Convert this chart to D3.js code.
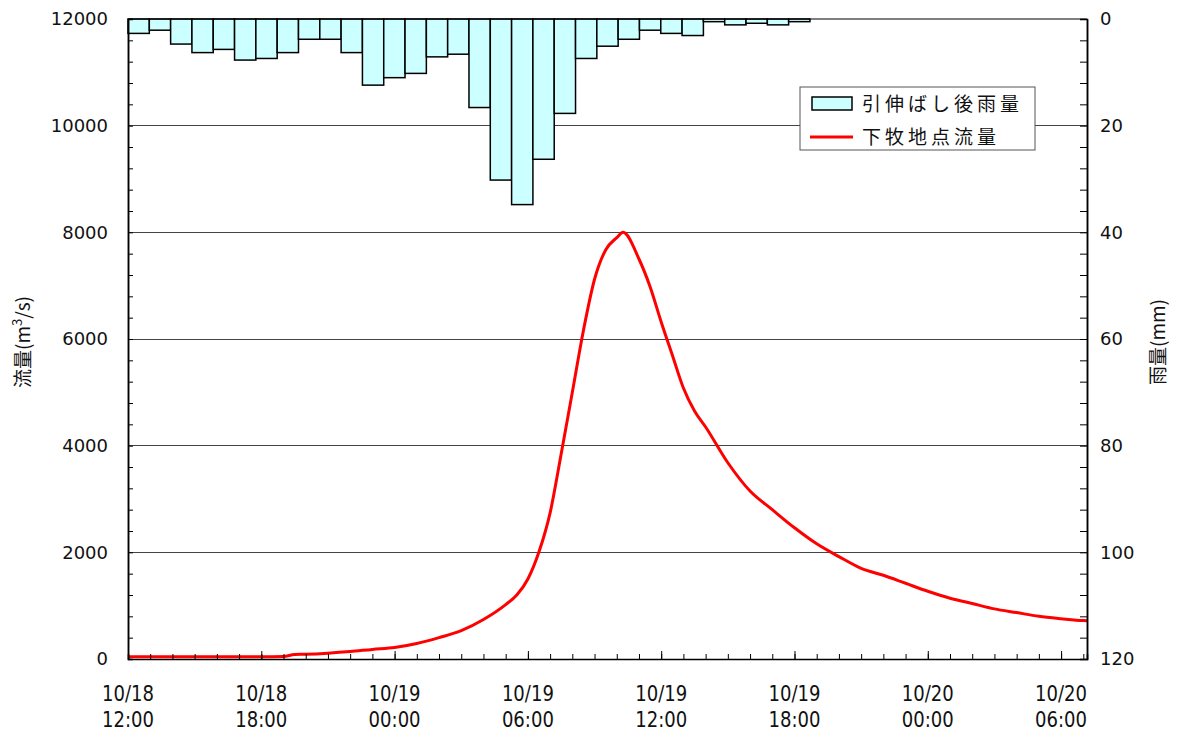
<!DOCTYPE html>
<html><head><meta charset="utf-8">
<script src="https://cdn.jsdelivr.net/npm/d3@7"></script>
<style>
html,body{margin:0;padding:0;background:#fff;}
svg{display:block;}
</style></head>
<body>
<svg id="chart" width="1178" height="731"></svg>
<script>
// ---- data ----
const flowTimes = ["10/18 12:00","10/18 13:00","10/18 14:00","10/18 15:00","10/18 16:00","10/18 17:00","10/18 18:00","10/18 19:00","10/18 19:30","10/18 20:00","10/18 21:00","10/18 22:00","10/18 23:00",
"10/19 00:00","10/19 01:00","10/19 02:00","10/19 03:00","10/19 04:00","10/19 05:00","10/19 05:30","10/19 06:00","10/19 06:30","10/19 07:00","10/19 07:30","10/19 08:00","10/19 08:30","10/19 09:00","10/19 09:30","10/19 10:00","10/19 10:17","10/19 11:00","10/19 11:30","10/19 12:00","10/19 12:30","10/19 13:00","10/19 13:30","10/19 14:00","10/19 15:00","10/19 16:00","10/19 17:00","10/19 18:00","10/19 19:00","10/19 20:00","10/19 21:00","10/19 22:00","10/19 23:00",
"10/20 00:00","10/20 01:00","10/20 02:00","10/20 03:00","10/20 04:00","10/20 05:00","10/20 06:00","10/20 07:00","10/20 07:10"];
const flowValues = [40,40,40,40,40,40,40,45,85,90,110,140,180,
215,290,400,530,740,1020,1200,1500,2010,2740,3850,5000,6160,7120,7670,7900,8000,7500,6980,6320,5700,5080,4650,4350,3680,3150,2800,2460,2160,1920,1700,1570,1420,
1270,1140,1040,940,870,800,755,720,718];
const rainValues = [2.7,2.1,4.7,6.3,5.7,7.7,7.4,6.3,3.8,3.8,6.3,12.4,11.0,10.2,7.1,6.6,
16.6,30.2,34.8,26.3,17.7,7.4,5.1,3.8,2.1,2.7,3.1,0.5,1.1,0.8,1.1,0.5];
const rainSlotCount = 45;
const flowTicks = [0,2000,4000,6000,8000,10000,12000];
const rainTicks = [0,20,40,60,80,100,120];
const legendLabels = ["引伸ばし後雨量","下牧地点流量"];
const yTitleLeft = ["流量(m","3","/s)"];
const yTitleRight = "雨量(mm)";

// ---- layout ----
const L = 128, R = 1087, T = 19, B = 659;
const parse = d3.timeParse("%m/%d %H:%M");
const flow = flowTimes.map((t,i)=>({t:parse(t), v:flowValues[i]}));
const svg = d3.select("#chart");

const x = d3.scaleTime().domain(d3.extent(flow, d=>d.t)).range([L,R]);
const yF = d3.scaleLinear().domain([0,12000]).range([B,T]);
const yR = d3.scaleLinear().domain([0,120]).range([T,B]);
const xRain = d3.scaleBand().domain(d3.range(rainSlotCount)).range([L,R]).padding(0);

const numFont = "DejaVu Sans, Verdana, sans-serif";
const jpFont = "'Noto Sans CJK JP', sans-serif";

// gridlines
svg.append("g").selectAll("line").data(flowTicks.filter(v=>v>0 && v<12000)).join("line")
  .attr("x1",L).attr("x2",R).attr("y1",d=>yF(d)).attr("y2",d=>yF(d))
  .attr("stroke","#444").attr("stroke-width",1).attr("shape-rendering","crispEdges");

// rain bars
svg.append("g").selectAll("rect").data(rainValues).join("rect")
  .attr("x",(d,i)=>xRain(i)).attr("width",xRain.bandwidth())
  .attr("y",yR(0)).attr("height",d=>yR(d)-yR(0))
  .attr("fill","#ccffff").attr("stroke","#000").attr("stroke-width",1.5);

// flow line
svg.append("path").datum(flow)
  .attr("d", d3.line().x(d=>x(d.t)).y(d=>yF(d.v)).curve(d3.curveMonotoneX))
  .attr("fill","none").attr("stroke","#ff0000").attr("stroke-width",3).attr("stroke-linejoin","round");

// frame top
svg.append("line").attr("x1",L).attr("x2",R).attr("y1",T).attr("y2",T)
  .attr("stroke","#000").attr("stroke-width",1.2);

// left axis
const gL = svg.append("g").attr("transform",`translate(${L},0)`);
gL.call(d3.axisLeft(yF).tickValues(d3.range(0,12001,400)).tickSize(-5).tickFormat(""));
gL.append("g").call(d3.axisLeft(yF).tickValues(flowTicks).tickSize(0).tickPadding(20).tickFormat(d3.format("d")));
gL.selectAll(".domain").attr("stroke","#000").attr("stroke-width",1.5);
gL.selectAll("text").attr("font-family",numFont).attr("font-size",18).attr("fill","#111");

// right axis
const gR = svg.append("g").attr("transform",`translate(${R},0)`);
gR.call(d3.axisRight(yR).tickValues(d3.range(0,121,4)).tickSize(-7).tickFormat(""));
gR.append("g").call(d3.axisRight(yR).tickValues(rainTicks).tickSize(0).tickPadding(13).tickFormat(d3.format("d")));
gR.selectAll(".domain").attr("stroke","#000").attr("stroke-width",1.5);
gR.selectAll("text").attr("font-family",numFont).attr("font-size",18).attr("fill","#111");

// bottom axis
const gB = svg.append("g").attr("transform",`translate(0,${B})`);
gB.call(d3.axisBottom(x).ticks(d3.timeHour.every(1)).tickSize(-5).tickFormat(""));
const major = x.ticks(d3.timeHour.every(6));
const gBM = gB.append("g").call(d3.axisBottom(x).tickValues(major).tickSize(-8).tickFormat(""));
gBM.select(".domain").remove();
gB.selectAll(".domain").attr("stroke","#000").attr("stroke-width",1.5);
const fD = d3.timeFormat("%m/%d"), fH = d3.timeFormat("%H:%M");
const lbl = gB.append("g").selectAll("g").data(major).join("g").attr("transform",d=>`translate(${x(d)},0)`);
[[fD,42],[fH,68]].forEach(([f,yy])=>{
  lbl.append("text").attr("y",yy).attr("text-anchor","middle")
    .attr("font-family",numFont).attr("font-size",22).attr("fill","#111")
    .attr("textLength",52).attr("lengthAdjust","spacingAndGlyphs")
    .text(d=>f(d));
});

// axis titles
const tl = svg.append("text").attr("transform","translate(30,342) rotate(-90)")
  .attr("text-anchor","middle").attr("font-family",jpFont).attr("font-size",19).attr("fill","#111");
tl.append("tspan").text(yTitleLeft[0]);
tl.append("tspan").attr("dy",-8).attr("font-size",13).text(yTitleLeft[1]);
tl.append("tspan").attr("dy",8).text(yTitleLeft[2]);
svg.append("text").attr("transform","translate(1165,342) rotate(-90)")
  .attr("text-anchor","middle").attr("font-family",jpFont).attr("font-size",19).attr("fill","#111")
  .text(yTitleRight);

// legend
const lg = svg.append("g").attr("transform","translate(800,87)");
lg.append("rect").attr("width",235).attr("height",63).attr("fill","#fff").attr("stroke","#555").attr("stroke-width",1);
lg.append("rect").attr("x",12).attr("y",10).attr("width",40).attr("height",13)
  .attr("fill","#ccffff").attr("stroke","#000").attr("stroke-width",1.5);
lg.append("line").attr("x1",10).attr("x2",53).attr("y1",50).attr("y2",50)
  .attr("stroke","#ff0000").attr("stroke-width",3);
lg.selectAll("text.lg").data(legendLabels).join("text").attr("class","lg")
  .attr("x",62).attr("y",(d,i)=>24+i*33)
  .attr("font-family",jpFont).attr("font-size",19).attr("letter-spacing",4).attr("fill","#111")
  .text(d=>d);
</script>
</body></html>
